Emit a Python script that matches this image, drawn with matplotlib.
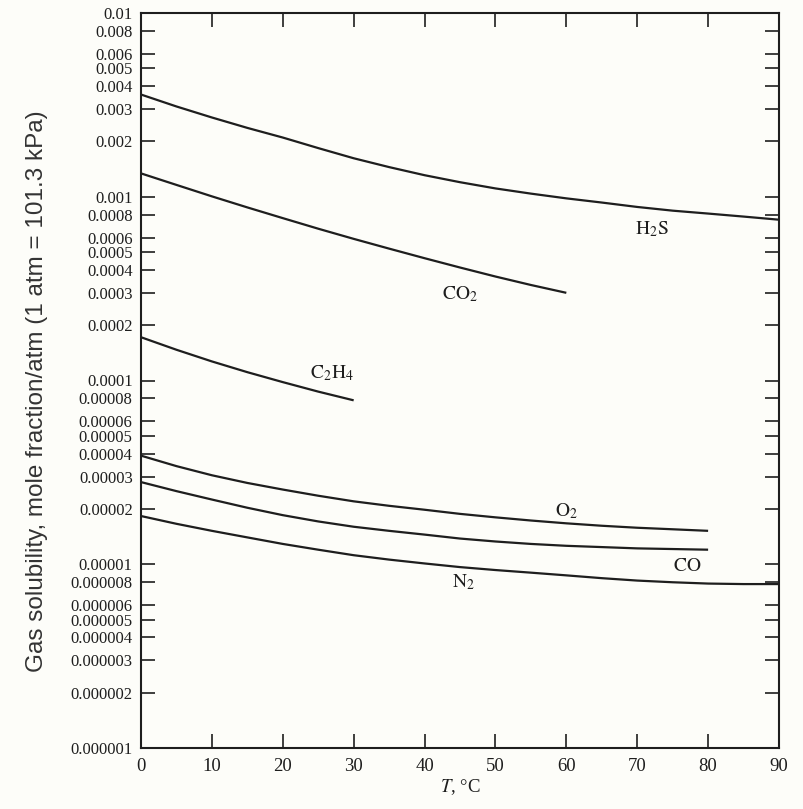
import matplotlib
matplotlib.use("Agg")
import matplotlib.pyplot as plt
from matplotlib.ticker import FixedLocator, FixedFormatter, NullLocator

# ---- data ----
T_h2s = [0, 5, 10, 15, 20, 25, 30, 35, 40, 45, 50, 55, 60, 65, 70, 75, 80, 85, 90]
h2s = [0.0036, 0.0031, 0.0027, 0.00237, 0.0021, 0.00184, 0.00162, 0.00145, 0.00131,
       0.0012, 0.00111, 0.00104, 0.00098, 0.00093, 0.00088, 0.00084, 0.00081, 0.00078, 0.00075]

T_co2 = [0, 5, 10, 15, 20, 25, 30, 35, 40, 45, 50, 55, 60]
co2 = [0.00134, 0.00116, 0.001005, 0.000875, 0.000765, 0.00067, 0.00059, 0.000522,
       0.000463, 0.000412, 0.000368, 0.000331, 0.00030]

T_c2h4 = [0, 5, 10, 15, 20, 25, 30]
c2h4 = [0.000172, 0.000147, 0.000127, 0.000111, 0.000098, 0.000087, 0.000078]

T_o2 = [0, 5, 10, 15, 20, 25, 30, 35, 40, 45, 50, 55, 60, 65, 70, 75, 80]
o2 = [3.9e-5, 3.42e-5, 3.05e-5, 2.77e-5, 2.55e-5, 2.36e-5, 2.2e-5, 2.08e-5, 1.98e-5,
      1.88e-5, 1.80e-5, 1.73e-5, 1.67e-5, 1.62e-5, 1.58e-5, 1.55e-5, 1.52e-5]

T_co = [0, 5, 10, 15, 20, 25, 30, 35, 40, 45, 50, 55, 60, 65, 70, 75, 80]
co = [2.8e-5, 2.5e-5, 2.25e-5, 2.03e-5, 1.85e-5, 1.71e-5, 1.6e-5, 1.52e-5, 1.45e-5,
      1.38e-5, 1.33e-5, 1.29e-5, 1.26e-5, 1.24e-5, 1.22e-5, 1.21e-5, 1.20e-5]

T_n2 = [0, 5, 10, 15, 20, 25, 30, 35, 40, 45, 50, 55, 60, 65, 70, 75, 80, 85, 90]
n2 = [1.83e-5, 1.66e-5, 1.52e-5, 1.40e-5, 1.29e-5, 1.2e-5, 1.12e-5, 1.06e-5, 1.01e-5,
      9.65e-6, 9.3e-6, 9.0e-6, 8.7e-6, 8.4e-6, 8.15e-6, 7.98e-6, 7.85e-6, 7.8e-6, 7.8e-6]

gas_labels = [r"$\mathrm{H_2S}$", r"$\mathrm{CO_2}$", r"$\mathrm{C_2H_4}$",
              r"$\mathrm{O_2}$", r"$\mathrm{CO}$", r"$\mathrm{N_2}$"]
label_T = [72, 45, 27, 60, 77, 45.5]
label_val = [6.7e-4, 2.94e-4, 1.09e-4, 1.95e-5, 9.7e-6, 8.0e-6]

x_ticks = [0, 10, 20, 30, 40, 50, 60, 70, 80, 90]
y_ticks = [0.01, 0.008, 0.006, 0.005, 0.004, 0.003, 0.002,
           0.001, 0.0008, 0.0006, 0.0005, 0.0004, 0.0003, 0.0002,
           0.0001, 0.00008, 0.00006, 0.00005, 0.00004, 0.00003, 0.00002,
           0.00001, 0.000008, 0.000006, 0.000005, 0.000004, 0.000003, 0.000002,
           0.000001]
y_tick_labels = ["0.01", "0.008", "0.006", "0.005", "0.004", "0.003", "0.002",
                 "0.001", "0.0008", "0.0006", "0.0005", "0.0004", "0.0003", "0.0002",
                 "0.0001", "0.00008", "0.00006", "0.00005", "0.00004", "0.00003", "0.00002",
                 "0.00001", "0.000008", "0.000006", "0.000005", "0.000004", "0.000003", "0.000002",
                 "0.000001"]

# ---- style ----
plt.rcParams["font.family"] = ["Liberation Serif", "DejaVu Serif"]
plt.rcParams["mathtext.fontset"] = "stix"

bg = "#fdfdf9"
ink = "#1e1e1e"

fig = plt.figure(figsize=(8.04, 8.09), dpi=100, facecolor=bg)
ax = fig.add_axes([141 / 804, 1 - 748 / 809, (779 - 141) / 804, (748 - 13) / 809])
ax.set_facecolor(bg)

ax.set_yscale("log")
ax.set_xlim(0, 90)
ax.set_ylim(1e-6, 1e-2)

series = [(T_h2s, h2s), (T_co2, co2), (T_c2h4, c2h4), (T_o2, o2), (T_co, co), (T_n2, n2)]
for T, v in series:
    ax.plot(T, v, color=ink, lw=1.6, solid_capstyle="butt", solid_joinstyle="round")

for lab, t, v in zip(gas_labels, label_T, label_val):
    ax.text(t, v, lab, ha="center", va="center", fontsize=14, color=ink)

ax.xaxis.set_major_locator(FixedLocator(x_ticks))
ax.set_xticklabels([str(t) for t in x_ticks])
ax.yaxis.set_major_locator(FixedLocator(y_ticks))
ax.yaxis.set_major_formatter(FixedFormatter(y_tick_labels))
ax.yaxis.set_minor_locator(NullLocator())

ax.tick_params(axis="both", which="major", direction="in", length=10, width=1.2,
               colors=ink, top=True, right=True)
ax.tick_params(axis="y", labelsize=12, pad=6)
ax.tick_params(axis="x", labelsize=13.5, pad=7)

for s in ax.spines.values():
    s.set_linewidth(1.5)
    s.set_color(ink)

ax.set_xlabel(r"$T$, °C", fontsize=13.5, color=ink, labelpad=2)
fig.text(37 / 804, 1 - 391 / 809,
         "Gas solubility, mole fraction/atm (1 atm = 101.3 kPa)",
         rotation=90, ha="center", va="center", fontsize=17.5,
         family=["Liberation Sans", "DejaVu Sans"], color="#333333")

fig.savefig("out.png", dpi=100, facecolor=bg)
